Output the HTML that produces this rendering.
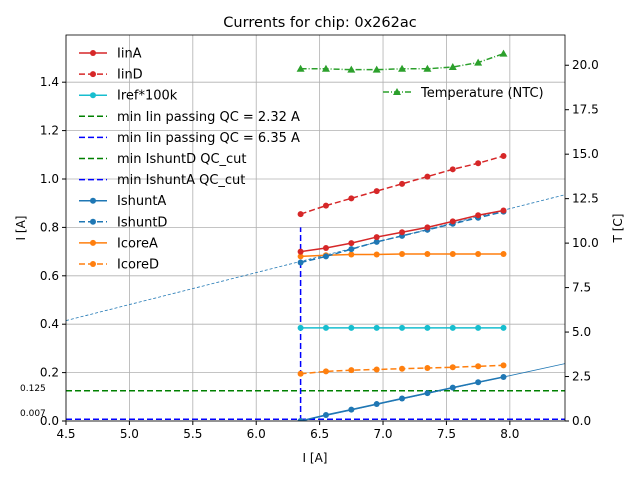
<!DOCTYPE html>
<html><head><meta charset="utf-8"><style>
body{margin:0;background:#fff;font-family:"Liberation Sans","DejaVu Sans",sans-serif}
svg text{font-family:"DejaVu Sans","Liberation Sans",sans-serif}
</style></head><body>
<svg id="chart" width="640" height="480" xmlns="http://www.w3.org/2000/svg"></svg>
<script>
const xs=[6.35,6.55,6.75,6.95,7.15,7.35,7.55,7.75,7.95];
const iinA=[0.70,0.715,0.735,0.76,0.78,0.80,0.825,0.85,0.87];
const iinD=[0.855,0.89,0.92,0.95,0.98,1.01,1.04,1.065,1.095];
const iref=[0.385,0.385,0.385,0.385,0.385,0.385,0.385,0.385,0.385];
const ishuntA=[0.0,0.025,0.047,0.07,0.093,0.115,0.138,0.16,0.182];
const ishuntD=[0.655,0.68,0.71,0.74,0.765,0.79,0.815,0.84,0.865];
const icoreA=[0.68,0.685,0.688,0.688,0.69,0.69,0.69,0.69,0.69];
const icoreD=[0.195,0.205,0.21,0.213,0.216,0.219,0.222,0.226,0.23];
const temp=[19.8,19.8,19.75,19.75,19.8,19.8,19.9,20.15,20.65];
const xTicks=[4.5,5.0,5.5,6.0,6.5,7.0,7.5,8.0];
const yTicks=[0,0.2,0.4,0.6,0.8,1.0,1.2,1.4];
const tTicks=[0,2.5,5,7.5,10,12.5,15,17.5,20];
const fitA=[[4.5,-0.211],[8.435,0.237]];
const fitD=[[4.5,0.415],[8.435,0.935]];
const L=66,R=565,T=35,B=421;
const X=v=>L+(v-4.5)/(8.435-4.5)*(R-L);
const Y=v=>B-v/1.595*(B-T);
const YT=v=>B-v/21.7*(B-T);
const svg=document.getElementById('chart');
const NS='http://www.w3.org/2000/svg';
function mk(tag,at,parent){const e=document.createElementNS(NS,tag);for(const k in at)e.setAttribute(k,at[k]);(parent||svg).appendChild(e);return e;}
const clip=mk('clipPath',{id:'pc'});mk('rect',{x:L,y:T,width:R-L,height:B-T},clip);
xTicks.forEach(t=>{const l=mk('line',{x1:X(t),x2:X(t),y1:T,y2:B,stroke:'#b0b0b0','stroke-width':0.8});


const tx=mk('text',{x:X(t),y:B+17,'font-size':12,'text-anchor':'middle'});tx.textContent=t.toFixed(1);


mk('line',{x1:X(t),x2:X(t),y1:B,y2:B+4,stroke:'#000'});});
yTicks.forEach(t=>{const l=mk('line',{x1:L,x2:R,y1:Y(t),y2:Y(t),stroke:'#b0b0b0','stroke-width':0.8});


const tx=mk('text',{x:L-7,y:Y(t)+4,'font-size':12,'text-anchor':'end'});tx.textContent=t.toFixed(1);


mk('line',{x1:L-4,x2:L,y1:Y(t),y2:Y(t),stroke:'#000'});});
tTicks.forEach(t=>{mk('line',{x1:R,x2:R+4,y1:YT(t),y2:YT(t),stroke:'#000'});
const tx=mk('text',{x:R+7,y:YT(t)+4,'font-size':12});tx.textContent=t.toFixed(1);

});
const g=mk('g',{'clip-path':'url(#pc)'});
function line(pts,color,dash,w,name){const p=mk('polyline',{points:pts.map(q=>q.join(',')).join(' '),fill:'none',stroke:color,'stroke-width':w,'stroke-dasharray':dash||''},g);

return p;}
line(fitA.map(p=>[X(p[0]),Y(p[1])]),'#1f77b4','',0.8,'ishuntA-fit-line');
line(fitD.map(p=>[X(p[0]),Y(p[1])]),'#1f77b4','3,2',0.8,'ishuntD-fit-line');
line([[L,Y(0.125)],[R,Y(0.125)]],'green','6,3',1.5,'min-ishuntD-qc-line');
line([[L,Y(0.007)],[R,Y(0.007)]],'blue','6,3',1.5,'min-ishuntA-qc-line');
line([[X(6.35),Y(0)],[X(6.35),Y(0.8)]],'blue','6,3',1.5,'min-iin-qc-vline');
function series(vals,yf,color,dash,marker,name){
line(xs.map((x,i)=>[X(x),yf(vals[i])]),color,dash,1.5,name+'-line');
xs.forEach((x,i)=>{let m;if(marker==='^'){const cx=X(x),cy=yf(vals[i]);m=mk('polygon',{points:`${cx},${cy-4} ${cx-4},${cy+3} ${cx+4},${cy+3}`,fill:color},g);}
else m=mk('circle',{cx:X(x),cy:yf(vals[i]),r:3,fill:color},g);

});}
series(iref,Y,'#17becf','','o','iref');
series(icoreD,Y,'#ff7f0e','6,3','o','icoreD');
series(ishuntA,Y,'#1f77b4','','o','ishuntA');
series(icoreA,Y,'#ff7f0e','','o','icoreA');
series(ishuntD,Y,'#1f77b4','6,3','o','ishuntD');
series(iinA,Y,'#d62728','','o','iinA');
series(iinD,Y,'#d62728','6,3','o','iinD');
series(temp,YT,'#2ca02c','6,2,1,2','^','temperature');
mk('rect',{x:L,y:T,width:R-L,height:B-T,fill:'none',stroke:'#000','stroke-width':0.8});
function txt(x,y,s,size,anchor,name,rot){const t=mk('text',{x:x,y:y,'font-size':size,'text-anchor':anchor||'start'});if(rot)t.setAttribute('transform',`rotate(-90 ${x} ${y})`);t.textContent=s;

}
txt(320,27,'Currents for chip: 0x262ac',14.5,'middle','chart-title');
txt(315,462,'I [A]',12,'middle','x-axis-title');
txt(25,228,'I [A]',12,'middle','y-axis-title',true);
txt(622,228,'T [C]',12,'middle','right-axis-title',true);
txt(20,391,'0.125',9,'start','shuntD-threshold-label');
txt(20,416,'0.007',9,'start','shuntA-threshold-label');
const leg=[['IinA','#d62728',''],['IinD','#d62728','6,3'],['Iref*100k','#17becf',''],['min Iin passing QC = 2.32 A','green','6,3',1],['min Iin passing QC = 6.35 A','blue','6,3',1],['min IshuntD QC_cut','green','6,3',1],['min IshuntA QC_cut','blue','6,3',1],['IshuntA','#1f77b4',''],['IshuntD','#1f77b4','6,3'],['IcoreA','#ff7f0e',''],['IcoreD','#ff7f0e','6,3']];
leg.forEach((e,i)=>{const y=53+i*21.1;const lg=mk('g',{});


mk('line',{x1:79,x2:107,y1:y,y2:y,stroke:e[1],'stroke-width':1.5,'stroke-dasharray':e[2]},lg);
if(!e[3])mk('circle',{cx:93,cy:y,r:3,fill:e[1]},lg);
const t=mk('text',{x:117,y:y+4.5,'font-size':13},lg);t.textContent=e[0];});
const tl=mk('g',{});


mk('line',{x1:383,x2:411,y1:92,y2:92,stroke:'#2ca02c','stroke-width':1.5,'stroke-dasharray':'6,2,1,2'},tl);
mk('polygon',{points:'397,88 393,95 401,95',fill:'#2ca02c'},tl);
const tt=mk('text',{x:421,y:97,'font-size':13},tl);tt.textContent='Temperature (NTC)';
</script>
</body></html>
